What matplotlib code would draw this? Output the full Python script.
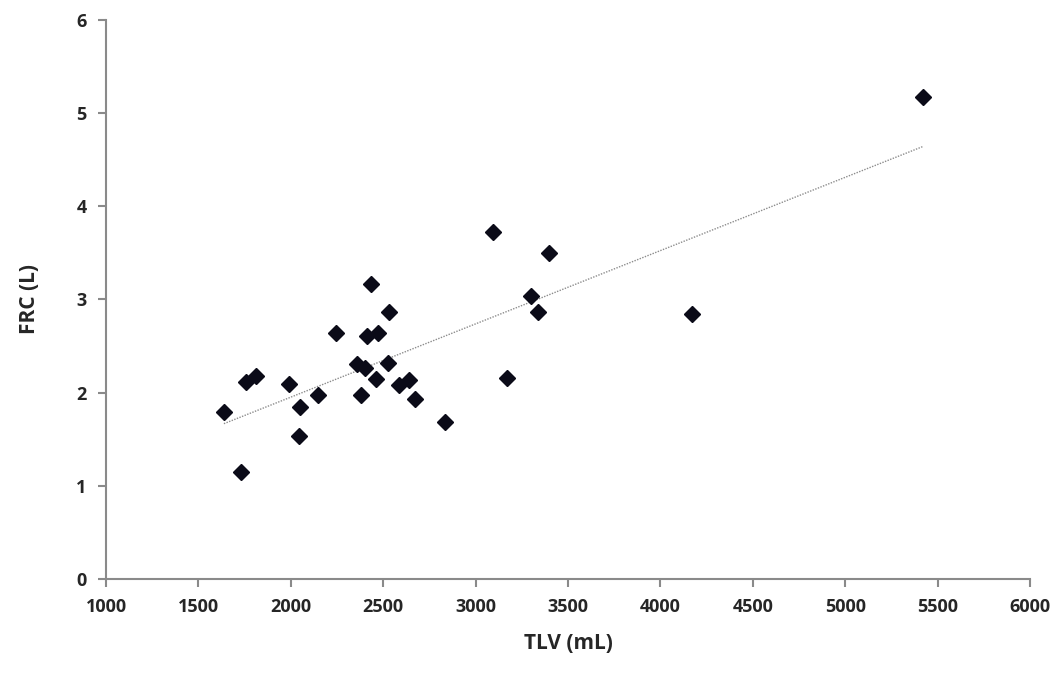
import numpy as np
import matplotlib.pyplot as plt

# data
tlv = [1638, 1730, 1758, 1812, 1990, 2044, 2050, 2147, 2245, 2358,
       2380, 2402, 2412, 2434, 2461, 2472, 2526, 2531, 2585, 2640,
       2672, 2834, 3096, 3168, 3300, 3336, 3399, 4169, 5419]
frc = [1.79, 1.15, 2.11, 2.18, 2.09, 1.53, 1.85, 1.97, 2.64, 2.31,
       1.98, 2.26, 2.61, 3.17, 2.15, 2.64, 2.32, 2.87, 2.08, 2.14,
       1.93, 1.69, 3.72, 2.16, 3.04, 2.87, 3.50, 2.84, 5.17]
x_ticks = [1000, 1500, 2000, 2500, 3000, 3500, 4000, 4500, 5000, 5500, 6000]
y_ticks = [0, 1, 2, 3, 4, 5, 6]

plt.rcParams['font.family'] = ['Open Sans', 'DejaVu Sans']

fig = plt.figure(figsize=(10.59, 6.77), dpi=100)
ax = fig.add_axes([0.1001, 0.1448, 0.8725, 0.8257])

# linear trendline
x = np.array(tlv)
y = np.array(frc)
k, b = np.polyfit(x, y, 1)
xl = np.array([x.min(), x.max()])
ax.plot(xl, k * xl + b, color="#8c8c8c", lw=1.0, ls=(0, (1, 1)))

ax.plot(tlv, frc, ls="none", marker="D", ms=8, color="#0b0b18")

ax.set_xlim(1000, 6000)
ax.set_ylim(0, 6)
ax.set_xticks(x_ticks)
ax.set_yticks(y_ticks)

for s in ["top", "right"]:
    ax.spines[s].set_visible(False)
for s in ["left", "bottom"]:
    ax.spines[s].set_color("#8a8a8a")
    ax.spines[s].set_linewidth(1.5)
ax.tick_params(direction="out", length=6, width=1.5, color="#8a8a8a",
               labelsize=13, labelcolor="#262626", pad=8)
for lab in ax.get_xticklabels() + ax.get_yticklabels():
    lab.set_fontweight("bold")

ax.set_xlabel("TLV (mL)", fontsize=15, fontweight="bold", color="#262626", labelpad=12)
ax.set_ylabel("FRC (L)", fontsize=15, fontweight="bold", color="#262626", labelpad=26)

fig.savefig("out.png", dpi=100)
